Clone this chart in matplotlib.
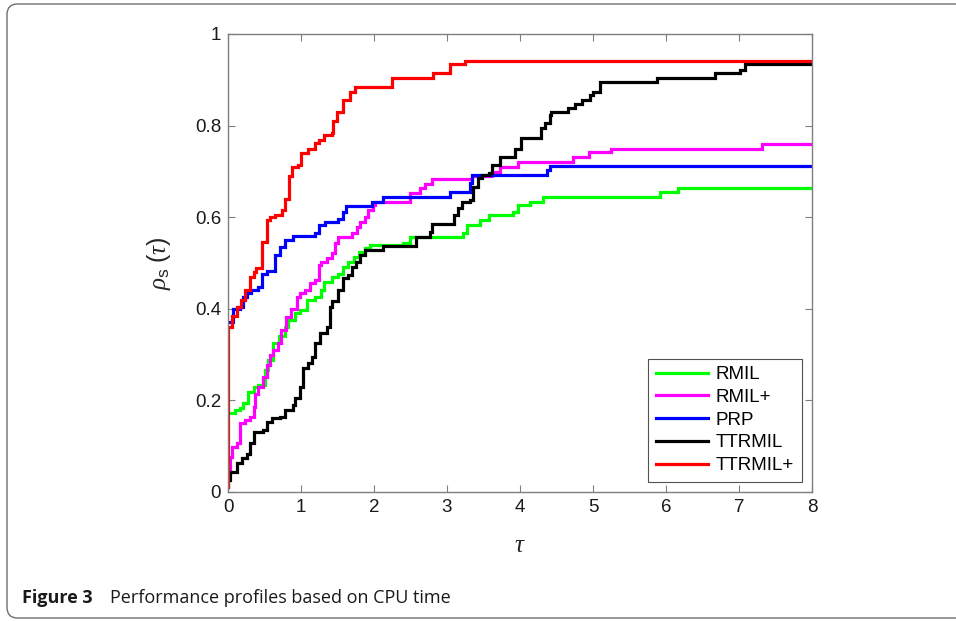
import matplotlib
matplotlib.use("Agg")
import matplotlib.pyplot as plt
from matplotlib.patches import FancyBboxPatch

# ---------------- data ----------------
labels = ["RMIL", "RMIL+", "PRP", "TTRMIL", "TTRMIL+"]
colors = ["#00ff00", "#ff00ff", "#0000ff", "#000000", "#ff0000"]

rmil_tau = [0, 0.09, 0.16, 0.21, 0.28, 0.35, 0.41, 0.50, 0.55, 0.62, 0.70, 0.78, 0.82, 0.92, 0.99,
            1.08, 1.19, 1.28, 1.32, 1.42, 1.51, 1.58, 1.65, 1.72, 1.79, 1.88, 1.95, 2.40, 2.49,
            3.22, 3.27, 3.45, 3.57, 3.91, 3.97, 4.14, 4.32, 5.92, 6.17]
rmil_rho = [0.172, 0.179, 0.183, 0.194, 0.219, 0.23, 0.234, 0.266, 0.288, 0.325, 0.34, 0.36, 0.376,
            0.39, 0.397, 0.419, 0.426, 0.441, 0.459, 0.47, 0.477, 0.492, 0.503, 0.514, 0.525, 0.532,
            0.539, 0.544, 0.557, 0.565, 0.583, 0.594, 0.605, 0.612, 0.627, 0.634, 0.645, 0.654, 0.664]

rmilp_tau = [0, 0.03, 0.05, 0.12, 0.16, 0.23, 0.30, 0.35, 0.37, 0.41, 0.48, 0.53, 0.58, 0.62, 0.69,
             0.72, 0.80, 0.86, 0.94, 0.98, 1.05, 1.12, 1.19, 1.24, 1.28, 1.35, 1.42, 1.47, 1.51,
             1.70, 1.77, 1.81, 1.88, 1.92, 1.99, 2.02, 2.49, 2.63, 2.70, 2.79, 3.34, 3.62, 3.73,
             3.97, 4.73, 4.95, 5.24, 7.31]
rmilp_rho = [0.05, 0.077, 0.099, 0.106, 0.15, 0.157, 0.164, 0.186, 0.215, 0.23, 0.252, 0.277, 0.299,
             0.31, 0.325, 0.354, 0.383, 0.40, 0.426, 0.434, 0.441, 0.456, 0.463, 0.496, 0.503, 0.51,
             0.521, 0.543, 0.557, 0.565, 0.579, 0.59, 0.601, 0.616, 0.627, 0.634, 0.652, 0.663,
             0.672, 0.683, 0.69, 0.699, 0.71, 0.721, 0.732, 0.742, 0.75, 0.759]

prp_tau = [0, 0.07, 0.16, 0.21, 0.26, 0.32, 0.41, 0.46, 0.53, 0.64, 0.71, 0.78, 0.89, 1.19, 1.24,
           1.33, 1.51, 1.58, 1.62, 1.97, 2.12, 3.04, 3.31, 3.34, 4.37, 4.41]
prp_rho = [0.372, 0.40, 0.405, 0.426, 0.434, 0.441, 0.448, 0.477, 0.482, 0.517, 0.535, 0.55, 0.56,
           0.565, 0.583, 0.59, 0.597, 0.612, 0.625, 0.634, 0.645, 0.654, 0.675, 0.692, 0.702, 0.712]

ttrmil_tau = [0, 0.005, 0.03, 0.12, 0.19, 0.26, 0.30, 0.35, 0.48, 0.53, 0.60, 0.71, 0.78, 0.89, 0.92,
              0.99, 1.03, 1.10, 1.15, 1.19, 1.26, 1.35, 1.40, 1.42, 1.51, 1.58, 1.65, 1.70, 1.76,
              1.81, 1.88, 2.13, 2.58, 2.77, 2.79, 3.09, 3.15, 3.20, 3.32, 3.36, 3.43, 3.48, 3.57,
              3.61, 3.73, 3.93, 4.02, 4.29, 4.34, 4.41, 4.43, 4.66, 4.75, 4.85, 4.96, 5.00, 5.10,
              5.87, 6.67, 7.01, 7.08]
ttrmil_rho = [0.01, 0.026, 0.044, 0.063, 0.074, 0.084, 0.106, 0.132, 0.135, 0.153, 0.161, 0.164,
              0.179, 0.19, 0.205, 0.23, 0.27, 0.281, 0.295, 0.325, 0.347, 0.361, 0.405, 0.416,
              0.441, 0.467, 0.474, 0.492, 0.503, 0.517, 0.528, 0.538, 0.557, 0.568, 0.586, 0.605,
              0.619, 0.634, 0.638, 0.667, 0.685, 0.692, 0.696, 0.714, 0.732, 0.75, 0.772, 0.794,
              0.805, 0.823, 0.83, 0.838, 0.847, 0.856, 0.867, 0.874, 0.896, 0.903, 0.914, 0.921,
              0.934]

ttrmilp_tau = [0, 0, 0.05, 0.12, 0.18, 0.23, 0.30, 0.35, 0.39, 0.46, 0.53, 0.58, 0.64, 0.74, 0.78,
               0.83, 0.87, 0.96, 1.0, 1.10, 1.19, 1.24, 1.31, 1.42, 1.44, 1.49, 1.58, 1.67, 1.74,
               2.24, 2.81, 3.04, 3.25]
ttrmilp_rho = [0.01, 0.36, 0.385, 0.405, 0.42, 0.44, 0.47, 0.48, 0.49, 0.545, 0.594, 0.60, 0.605,
               0.615, 0.64, 0.69, 0.71, 0.714, 0.74, 0.75, 0.761, 0.769, 0.779, 0.783, 0.809, 0.83,
               0.856, 0.874, 0.885, 0.905, 0.914, 0.934, 0.942]

series = [(rmil_tau, rmil_rho), (rmilp_tau, rmilp_rho), (prp_tau, prp_rho),
          (ttrmil_tau, ttrmil_rho), (ttrmilp_tau, ttrmilp_rho)]

x_ticks = [0, 1, 2, 3, 4, 5, 6, 7, 8]
y_ticks = [0, 0.2, 0.4, 0.6, 0.8, 1]
y_ticklabels = ["0", "0.2", "0.4", "0.6", "0.8", "1"]
caption_bold = "Figure 3"
caption_text = "Performance profiles based on CPU time"

# ---------------- figure ----------------
plt.rcParams["font.family"] = ["Liberation Sans", "DejaVu Sans"]
plt.rcParams["mathtext.fontset"] = "custom"
plt.rcParams["mathtext.rm"] = "Liberation Sans"
plt.rcParams["mathtext.it"] = "Liberation Serif:italic"
plt.rcParams["mathtext.sf"] = "Liberation Sans"

W, H = 956, 621
fig = plt.figure(figsize=(W / 100, H / 100), dpi=100)

# rounded frame around the figure (open to the right edge)
frame = FancyBboxPatch((7 / W, 3 / H), (W + 20) / W, (H - 7) / H,
                       boxstyle="round,pad=0,rounding_size=0.011",
                       transform=fig.transFigure, fill=False, edgecolor="#6e6e6e",
                       linewidth=1.0, clip_on=False, mutation_aspect=W / H)
fig.patches.append(frame)

ax = fig.add_axes([228 / W, 1 - 492 / H, (812 - 228) / W, (492 - 34) / H])

xmax = 8
for (t, r), lab, c in zip(series, labels, colors):
    tt = list(t) + [xmax]
    rr = list(r) + [r[-1]]
    ax.step(tt, rr, where="post", color=c, linewidth=2.3, label=lab, solid_joinstyle="miter")

ax.set_xlim(0, 8)
ax.set_ylim(0, 1)
ax.set_xticks(x_ticks)
ax.set_yticks(y_ticks)
ax.set_yticklabels(y_ticklabels)
ax.tick_params(direction="in", length=5, width=0.8, colors="#7f7f7f", labelcolor="#1a1a1a",
               labelsize=13.5, top=True, right=True, pad=5)
for s in ax.spines.values():
    s.set_color("#7f7f7f")
    s.set_linewidth(1.0)

ax.set_xlabel(r"$\tau$", fontsize=18, color="#262626", labelpad=12)
ax.set_ylabel(r"$\rho_{\mathrm{s}}\;(\tau)$", fontsize=18, color="#262626", labelpad=16)

leg = ax.legend(loc="lower right", fontsize=13.5, frameon=True, fancybox=False,
                edgecolor="#262626", handlelength=2.8, handletextpad=0.4,
                labelspacing=0.3, borderpad=0.4, borderaxespad=0.55)
leg.get_frame().set_linewidth(0.8)

fig.text(22 / W, 1 - 598 / H, caption_bold, fontsize=13, fontweight="bold",
         family=["Open Sans", "DejaVu Sans"], va="center", ha="left", color="#1a1a1a")
fig.text(110 / W, 1 - 598 / H, caption_text, fontsize=13,
         family=["Open Sans", "DejaVu Sans"], va="center", ha="left", color="#1a1a1a")

fig.savefig("out.png", dpi=100)
